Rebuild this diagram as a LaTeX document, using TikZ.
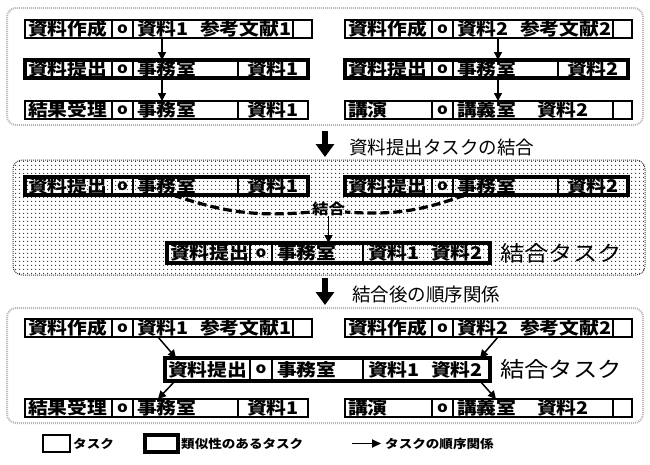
\documentclass[tikz,border=0pt]{standalone}
\usepackage{fontspec}
\usetikzlibrary{arrows.meta,patterns.meta}
\newfontfamily\jp{Noto Sans CJK JP}[FakeStretch=1.13]
\newfontfamily\jpn{Noto Sans CJK JP}
\tikzset{
  panel/.style={draw=gray!55, line width=2pt, dash pattern=on 1pt off 1pt, rounded corners=9pt, inner sep=0pt, outer sep=0pt},
  panelm/.style={draw=black!75, line width=1pt, densely dotted, rounded corners=9pt, pattern={Dots[distance=4pt,radius=0.7pt]}, pattern color=black!85, inner sep=0pt, outer sep=0pt},
  tbox/.style={draw, line width=1.7pt, inner sep=0pt, outer sep=0pt},
  sbox/.style={draw, line width=3.6pt, inner sep=0pt, outer sep=0pt},
  tdiv/.style={line width=1.7pt},
  sdiv/.style={line width=2.8pt},
  txt/.style={font=\jp\bfseries\fontsize{17.5}{18}\selectfont, inner sep=0pt, anchor=west},
  otxt/.style={font=\jp\bfseries\fontsize{15}{15}\selectfont, inner sep=0pt},
  lbl/.style={font=\jpn\fontsize{18.5}{19}\selectfont, inner sep=0pt, anchor=west},
  mlbl/.style={font=\jp\fontsize{21.5}{22}\selectfont, inner sep=0pt, anchor=west},
  kgtxt/.style={font=\jp\bfseries\fontsize{14.5}{15}\selectfont, inner sep=0pt},
  lgtxt/.style={font=\jp\bfseries\fontsize{12}{12}\selectfont, inner sep=0pt, anchor=west},
  arr/.style={line width=1.5pt, -{Triangle[length=8pt,width=8pt]}},
  bigarr/.style={line width=6pt, -{Triangle[length=13pt,width=18pt]}},
  legarr/.style={line width=1.9pt, -{Triangle[length=9pt,width=8pt]}},
  dashln/.style={line width=3.2pt, dash pattern=on 9pt off 4pt},
}
% box node: name, x0, y0, x1, y1, style
\newcommand\tk[6]{\node[#6, anchor=north west, minimum width={(#4-#2)*1pt}, minimum height={(#5-#3)*1pt}] (#1) at (#2,#3) {};}
% row type A: name, x0, y0, y1, first, text1, text2, offset of text2
\newcommand\rowA[8]{%
  \tk{#1}{#2}{#3}{#2+287}{#4}{tbox}
  \draw[tdiv] (#2+87,#3) -- (#2+87,#4) (#2+108,#3) -- (#2+108,#4) (#2+268,#3) -- (#2+268,#4);
  \node[txt] (#1-a) at (#2+3,{(#3+#4)/2}) {#5};
  \node[otxt] (#1-o) at (#2+97.5,{(#3+#4)/2}) {o};
  \node[txt] (#1-b) at (#2+112,{(#3+#4)/2}) {#6};
  \node[txt] (#1-c) at (#2+#8,{(#3+#4)/2}) {#7};
}
% row type B: name, x0, y0, y1, first, mid, last, style prefix (t/s)
\newcommand\rowB[8]{%
  \tk{#1}{#2}{#3}{#2+283}{#4}{#8box}
  \draw[#8div] (#2+87,#3) -- (#2+87,#4) (#2+108,#3) -- (#2+108,#4) (#2+213,#3) -- (#2+213,#4);
  \node[txt] (#1-a) at (#2+3,{(#3+#4)/2}) {#5};
  \node[otxt] (#1-o) at (#2+97.5,{(#3+#4)/2}) {o};
  \node[txt] (#1-b) at (#2+112,{(#3+#4)/2}) {#6};
  \node[txt] (#1-c) at (#2+222,{(#3+#4)/2}) {#7};
}
% merged task: name, x0, y0, x1, y1
\newcommand\merged[5]{%
  \tk{#1}{#2}{#3}{#4}{#5}{sbox}
  \draw[sdiv] (250,#3) -- (250,#5) (272,#3) -- (272,#5) (363,#3) -- (363,#5);
  \node[txt] (#1-a) at (#2+3,{(#3+#5)/2}) {資料提出};
  \node[otxt] (#1-o) at (261,{(#3+#5)/2}) {o};
  \node[txt] (#1-b) at (277,{(#3+#5)/2}) {事務室};
  \node[txt] (#1-c) at (368,{(#3+#5)/2}) {資料1};
  \node[txt] (#1-d) at (431,{(#3+#5)/2}) {資料2};
}
\begin{document}
\begin{tikzpicture}[x=1pt,y=-1pt]
\useasboundingbox (0,0) rectangle (650,464);
\fill[white] (0,0) rectangle (650,464);
% panels
\tk{P1}{7}{8}{643}{125}{panel}
\tk{P2}{13}{160}{645}{275}{panelm}
\tk{P3}{7}{308}{643}{423}{panel}

% top panel
\rowA{tL1}{25}{20}{38}{資料作成}{資料1}{参考文献1}{175}
\rowB{tL2}{25}{60}{78}{資料提出}{事務室}{資料1}{s}
\rowB{tL3}{25}{101}{119}{結果受理}{事務室}{資料1}{t}
\rowA{tR1}{345}{20}{38}{資料作成}{資料2}{参考文献2}{175}
\rowB{tR2}{345}{60}{78}{資料提出}{事務室}{資料2}{s}
\rowA{tR3}{345}{101}{119}{講演}{講義室}{資料2}{192}
\draw[arr] ([xshift=137pt]tL1.south west) -- ([xshift=137pt]tL2.north west);
\draw[arr] ([xshift=137pt]tL2.south west) -- ([xshift=137pt]tL3.north west);
\draw[arr] ([xshift=153pt]tR1.south west) -- ([xshift=153pt]tR2.north west);
\draw[arr] ([xshift=153pt]tR2.south west) -- ([xshift=153pt]tR3.north west);

% big arrow 1
\draw[bigarr] ([yshift=-6pt]P1.south) -- ([yshift=3pt]P1.south |- P2.north);
\node[lbl] (L1) at (349,147) {資料提出タスクの結合};

% middle panel
\rowB{mL}{25}{177}{195}{資料提出}{事務室}{資料1}{s}
\rowB{mR}{345}{177}{195}{資料提出}{事務室}{資料2}{s}
\merged{mM}{167}{243}{490}{263}
\node[kgtxt] (kg) at (328.5,209) {結合};
\draw[dashln] ([xshift=148pt]mL.south west) to[bend right=12] ([yshift=-3pt]kg.west);
\draw[dashln] ([xshift=120pt]mR.south west) to[bend left=12] ([yshift=-3pt]kg.east);
\draw[arr] (kg.south) -- (mM.north);
\node[mlbl] (mMl) at (500,253) {結合タスク};

% big arrow 2
\draw[bigarr] ([yshift=-3pt]P3.north |- P2.south) -- ([yshift=3pt]P3.north);
\node[lbl] (L2) at (352,294) {結合後の順序関係};

% bottom panel
\rowA{bL1}{25}{319}{337}{資料作成}{資料1}{参考文献1}{175}
\rowA{bR1}{345}{319}{337}{資料作成}{資料2}{参考文献2}{175}
\merged{bM}{165}{358}{490}{381}
\rowB{bL3}{25}{399}{417}{結果受理}{事務室}{資料1}{t}
\rowA{bR3}{345}{399}{417}{講演}{講義室}{資料2}{192}
\node[mlbl] (bMl) at (500,369) {結合タスク};
\draw[arr] ([xshift=133pt]bL1.south west) -- ([xshift=11pt]bM.north west);
\draw[arr] ([xshift=153pt]bR1.south west) -- ([xshift=315pt]bM.north west);
\draw[arr] ([xshift=10pt]bM.south west) -- ([xshift=133pt]bL3.north west);
\draw[arr] ([xshift=315pt]bM.south west) -- ([xshift=151pt]bR3.north west);

% legend
\tk{lg1}{43}{435}{70}{452}{tbox}
\node[lgtxt] (lg1t) at (73,443.5) {タスク};
\tk{lg2}{145}{435}{178}{452}{sbox}
\node[lgtxt] (lg2t) at (181,443.5) {類似性のあるタスク};
\coordinate (la1) at (352,443.5);
\coordinate (la2) at (381,443.5);
\draw[legarr] (la1) -- (la2);
\node[lgtxt] (lg3t) at (385,443.5) {タスクの順序関係};
\end{tikzpicture}
\end{document}
